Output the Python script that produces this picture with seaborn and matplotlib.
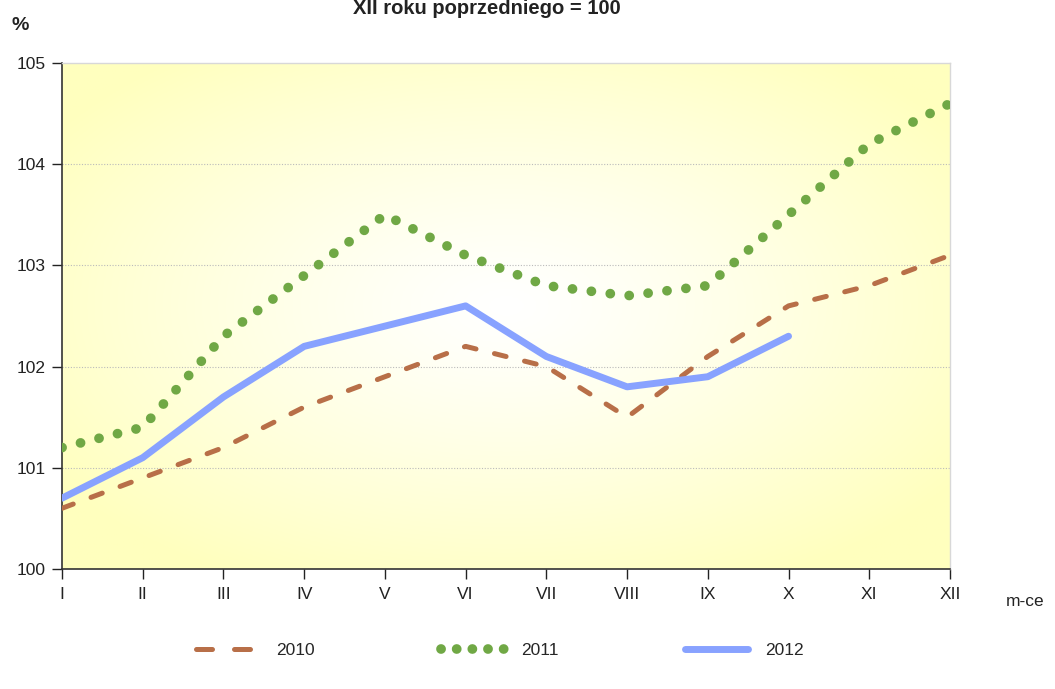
import numpy as np
import pandas as pd
import matplotlib
matplotlib.use("Agg")
import matplotlib.pyplot as plt
import seaborn as sns

MONTHS = ["I", "II", "III", "IV", "V", "VI", "VII", "VIII", "IX", "X", "XI", "XII"]
Y2010 = [100.6, 100.9, 101.2, 101.6, 101.9, 102.2, 102.0, 101.5, 102.1, 102.6, 102.8, 103.1]
Y2011 = [101.2, 101.4, 102.3, 102.9, 103.5, 103.1, 102.8, 102.7, 102.8, 103.5, 104.2, 104.6]
Y2012 = [100.7, 101.1, 101.7, 102.2, 102.4, 102.6, 102.1, 101.8, 101.9, 102.3]
YTICKS = [100, 101, 102, 103, 104, 105]

sns.set_style("white")
plt.rcParams['font.family'] = ['Liberation Sans', 'DejaVu Sans']

fig = plt.figure(figsize=(10.55, 6.89), dpi=100)
ax = fig.add_axes([62 / 1055, 1 - 569 / 689, (950 - 62) / 1055, (569 - 63) / 689])

# radial white -> pale yellow background
gx, gy = np.meshgrid(np.linspace(0, 1, 300), np.linspace(0, 1, 200))
r = np.sqrt(((gx - 0.5) / 0.62) ** 2 + ((gy - 0.52) / 0.62) ** 2)
r = np.clip(r, 0, 1)
img = np.ones((200, 300, 3))
img[..., 2] = 1 - (1 - 190 / 255) * r ** 1.2
ax.imshow(img, extent=[0, 11, 100, 105], aspect="auto", origin="lower", zorder=0)

x = np.arange(12)
sns.lineplot(x=x, y=Y2010, ax=ax, color="#B86F48", lw=3.6, label="2010",
             linestyle=(0, (2.4, 3.8)), dash_capstyle="round", zorder=3)
sns.lineplot(x=x, y=Y2011, ax=ax, color="#70A845", lw=7, label="2011",
             linestyle=(0, (0.01, 1.95)), dash_capstyle="round", zorder=3)
sns.lineplot(x=x[:len(Y2012)], y=Y2012, ax=ax, color="#88A2FF", lw=5, label="2012",
             solid_capstyle="round", zorder=4)

ax.set_xlim(0, 11)
ax.set_ylim(100, 105)
ax.set_xticks(x)
ax.set_xticklabels(MONTHS)
ax.set_yticks(YTICKS)
ax.set_yticklabels([str(t) for t in YTICKS])
ax.set_xlabel("")
ax.set_ylabel("")
for t in YTICKS[1:-1]:
    ax.axhline(t, color="#BBBBBB", lw=0.8, ls=(0, (1, 1.5)), zorder=1)

ax.tick_params(axis="both", labelsize=12.5, colors="#222222", length=7, width=1,
               direction="out", bottom=True, left=True)
ax.tick_params(axis="x", pad=6)
ax.tick_params(axis="y", pad=5)
for side in ["left", "bottom"]:
    ax.spines[side].set_color("#333333")
    ax.spines[side].set_linewidth(1.2)
for side in ["top", "right"]:
    ax.spines[side].set_color("#D8D8D8")
    ax.spines[side].set_linewidth(1)

fig.text(487 / 1055, 1 - 9 / 689, "XII roku poprzedniego = 100", ha="center", va="center",
         fontsize=14.5, fontweight="bold", color="#222222")
fig.text(20 / 1055, 1 - 25 / 689, "%", ha="center", va="center",
         fontsize=14, fontweight="bold", color="#222222")
fig.text(1025 / 1055, 1 - 601 / 689, "m-ce", ha="center", va="center",
         fontsize=12.5, color="#222222")

leg = ax.legend(loc="center", bbox_to_anchor=(500 / 1055, 1 - 650 / 689),
                bbox_transform=fig.transFigure, ncol=3, frameon=False,
                fontsize=12.5, handlelength=3.6, columnspacing=7.3, handletextpad=1.0)
# legend handles: two dashes / five dots like the original
h2010, h2011, h2012 = leg.get_lines()
h2010.set_linestyle((0, (3.2, 4.4)))
h2011.set_linestyle((0, (0.01, 1.6)))

fig.savefig("out.png", dpi=100)
